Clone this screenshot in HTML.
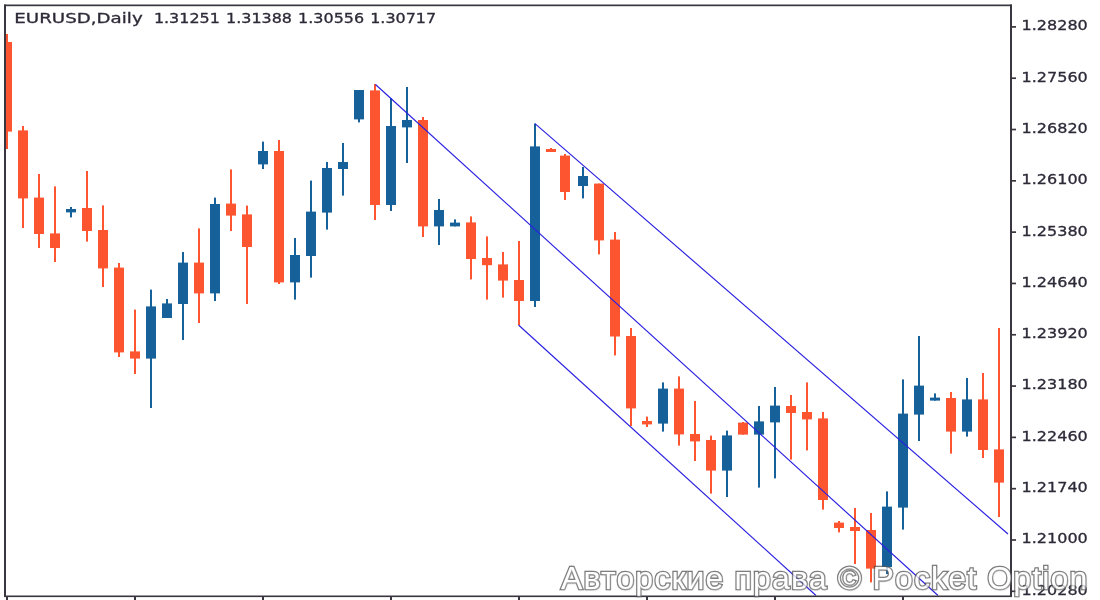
<!DOCTYPE html>
<html><head><meta charset="utf-8"><title>EURUSD Daily</title>
<style>
html,body{margin:0;padding:0;background:#fff;}
body{width:1100px;height:600px;overflow:hidden;position:relative;}
svg{position:absolute;left:0;top:0;display:block;filter:blur(0.4px)}
svg text{font-family:"DejaVu Sans","Liberation Sans",sans-serif;font-size:13.5px;fill:#2e2a38;stroke:#2e2a38;stroke-width:0.3px;}
#wm{position:absolute;left:561px;top:555.6px;white-space:nowrap;font-family:"Liberation Sans",sans-serif;font-size:32px;letter-spacing:1.15px;line-height:44px;color:#fff;opacity:.76;
-webkit-text-stroke:2.6px #4a4a4a;paint-order:stroke fill;
text-shadow:0 0 2px #777,0.5px 0.5px 2px #999;}
</style></head><body>
<svg width="1100" height="600" viewBox="0 0 1100 600">
<rect width="1100" height="600" fill="#fff"/>
<defs><clipPath id="cp"><rect x="6" y="6" width="1004" height="590"/></clipPath></defs>
<g clip-path="url(#cp)">
<rect x="6" y="34" width="2" height="115" fill="#FD5530"/>
<rect x="2" y="42" width="10" height="89.6" fill="#FD5530"/>
<rect x="22" y="126" width="2" height="102" fill="#FD5530"/>
<rect x="18" y="130.4" width="10" height="68.0" fill="#FD5530"/>
<rect x="38" y="174" width="2" height="74" fill="#FD5530"/>
<rect x="34" y="197.6" width="10" height="36.4" fill="#FD5530"/>
<rect x="54" y="186.4" width="2" height="75.6" fill="#FD5530"/>
<rect x="50" y="233.4" width="10" height="14.6" fill="#FD5530"/>
<rect x="70" y="207" width="2" height="10.4" fill="#17619A"/>
<rect x="66" y="209" width="10" height="3.4" fill="#17619A"/>
<rect x="86" y="171" width="2" height="70.6" fill="#FD5530"/>
<rect x="82" y="208" width="10" height="23" fill="#FD5530"/>
<rect x="102" y="205.4" width="2" height="81.6" fill="#FD5530"/>
<rect x="98" y="230" width="10" height="38.4" fill="#FD5530"/>
<rect x="118" y="263" width="2" height="94" fill="#FD5530"/>
<rect x="114" y="267.6" width="10" height="84.8" fill="#FD5530"/>
<rect x="134" y="309.6" width="2" height="64.4" fill="#FD5530"/>
<rect x="130" y="351.4" width="10" height="7.2" fill="#FD5530"/>
<rect x="150" y="289.6" width="2" height="118.4" fill="#17619A"/>
<rect x="146" y="306.4" width="10" height="52.2" fill="#17619A"/>
<rect x="166" y="299" width="2" height="19" fill="#17619A"/>
<rect x="162" y="303.4" width="10" height="14.6" fill="#17619A"/>
<rect x="182" y="252" width="2" height="88" fill="#17619A"/>
<rect x="178" y="262.6" width="10" height="41.4" fill="#17619A"/>
<rect x="198" y="228.4" width="2" height="94.6" fill="#FD5530"/>
<rect x="194" y="262.6" width="10" height="30.8" fill="#FD5530"/>
<rect x="214" y="197.6" width="2" height="103.4" fill="#17619A"/>
<rect x="210" y="204" width="10" height="89.4" fill="#17619A"/>
<rect x="230" y="169.4" width="2" height="61.6" fill="#FD5530"/>
<rect x="226" y="203.6" width="10" height="12.0" fill="#FD5530"/>
<rect x="246" y="205.6" width="2" height="98.4" fill="#FD5530"/>
<rect x="242" y="214.4" width="10" height="32.6" fill="#FD5530"/>
<rect x="262" y="141.6" width="2" height="27.4" fill="#17619A"/>
<rect x="258" y="151" width="10" height="13.4" fill="#17619A"/>
<rect x="278" y="140" width="2" height="144" fill="#FD5530"/>
<rect x="274" y="151" width="10" height="131.4" fill="#FD5530"/>
<rect x="294" y="238" width="2" height="61.6" fill="#17619A"/>
<rect x="290" y="255" width="10" height="27.4" fill="#17619A"/>
<rect x="310" y="180.6" width="2" height="97.0" fill="#17619A"/>
<rect x="306" y="211.6" width="10" height="44.4" fill="#17619A"/>
<rect x="326" y="162" width="2" height="67.6" fill="#17619A"/>
<rect x="322" y="168" width="10" height="44.6" fill="#17619A"/>
<rect x="342" y="143" width="2" height="52.6" fill="#17619A"/>
<rect x="338" y="162" width="10" height="7" fill="#17619A"/>
<rect x="358" y="90" width="2" height="32.4" fill="#17619A"/>
<rect x="354" y="90" width="10" height="29.4" fill="#17619A"/>
<rect x="374" y="84" width="2" height="136" fill="#FD5530"/>
<rect x="370" y="90.4" width="10" height="114.6" fill="#FD5530"/>
<rect x="390" y="98" width="2" height="113" fill="#17619A"/>
<rect x="386" y="126" width="10" height="79" fill="#17619A"/>
<rect x="406" y="87" width="2" height="76" fill="#17619A"/>
<rect x="402" y="120" width="10" height="7.4" fill="#17619A"/>
<rect x="422" y="117" width="2" height="120" fill="#FD5530"/>
<rect x="418" y="120" width="10" height="106.4" fill="#FD5530"/>
<rect x="438" y="199" width="2" height="46" fill="#17619A"/>
<rect x="434" y="210" width="10" height="16.4" fill="#17619A"/>
<rect x="454" y="219.4" width="2" height="7.0" fill="#17619A"/>
<rect x="450" y="222.6" width="10" height="3.8" fill="#17619A"/>
<rect x="470" y="216.4" width="2" height="63.0" fill="#FD5530"/>
<rect x="466" y="222.4" width="10" height="36.6" fill="#FD5530"/>
<rect x="486" y="236.4" width="2" height="63.2" fill="#FD5530"/>
<rect x="482" y="258" width="10" height="7.2" fill="#FD5530"/>
<rect x="502" y="252" width="2" height="45.6" fill="#FD5530"/>
<rect x="498" y="264.4" width="10" height="16.2" fill="#FD5530"/>
<rect x="518" y="241" width="2" height="84" fill="#FD5530"/>
<rect x="514" y="280" width="10" height="21" fill="#FD5530"/>
<rect x="534" y="123.6" width="2" height="183.4" fill="#17619A"/>
<rect x="530" y="146.4" width="10" height="154.6" fill="#17619A"/>
<rect x="550" y="148" width="2" height="4" fill="#FD5530"/>
<rect x="546" y="149" width="10" height="3" fill="#FD5530"/>
<rect x="564" y="154" width="2" height="46" fill="#FD5530"/>
<rect x="560" y="155.6" width="10" height="36.4" fill="#FD5530"/>
<rect x="582" y="167" width="2" height="31.4" fill="#17619A"/>
<rect x="578" y="176" width="10" height="10" fill="#17619A"/>
<rect x="598" y="183.6" width="2" height="70.8" fill="#FD5530"/>
<rect x="594" y="183.6" width="10" height="56.8" fill="#FD5530"/>
<rect x="614" y="232" width="2" height="123.4" fill="#FD5530"/>
<rect x="610" y="239.6" width="10" height="96.9" fill="#FD5530"/>
<rect x="630" y="328" width="2" height="98" fill="#FD5530"/>
<rect x="626" y="336" width="10" height="72.4" fill="#FD5530"/>
<rect x="646" y="416.6" width="2" height="10.4" fill="#FD5530"/>
<rect x="642" y="421" width="10" height="3.4" fill="#FD5530"/>
<rect x="662" y="382.4" width="2" height="49.2" fill="#17619A"/>
<rect x="658" y="388.6" width="10" height="35.0" fill="#17619A"/>
<rect x="678" y="376.4" width="2" height="69.2" fill="#FD5530"/>
<rect x="674" y="388.6" width="10" height="45.8" fill="#FD5530"/>
<rect x="694" y="401" width="2" height="60" fill="#FD5530"/>
<rect x="690" y="434" width="10" height="7.4" fill="#FD5530"/>
<rect x="710" y="435.6" width="2" height="58.0" fill="#FD5530"/>
<rect x="706" y="440" width="10" height="30.6" fill="#FD5530"/>
<rect x="726" y="430.6" width="2" height="66.4" fill="#17619A"/>
<rect x="722" y="435.4" width="10" height="35.2" fill="#17619A"/>
<rect x="742" y="422" width="2" height="12.6" fill="#FD5530"/>
<rect x="738" y="422.6" width="10" height="12.0" fill="#FD5530"/>
<rect x="758" y="406" width="2" height="81.6" fill="#17619A"/>
<rect x="754" y="421.4" width="10" height="13.2" fill="#17619A"/>
<rect x="774" y="387" width="2" height="91.4" fill="#17619A"/>
<rect x="770" y="405.6" width="10" height="16.8" fill="#17619A"/>
<rect x="790" y="395" width="2" height="64.6" fill="#FD5530"/>
<rect x="786" y="406" width="10" height="7" fill="#FD5530"/>
<rect x="806" y="382.4" width="2" height="68.0" fill="#FD5530"/>
<rect x="802" y="412" width="10" height="7.4" fill="#FD5530"/>
<rect x="822" y="412" width="2" height="97.6" fill="#FD5530"/>
<rect x="818" y="418.4" width="10" height="81.6" fill="#FD5530"/>
<rect x="838" y="521" width="2" height="11.4" fill="#FD5530"/>
<rect x="834" y="522.6" width="10" height="5.4" fill="#FD5530"/>
<rect x="854" y="508" width="2" height="56" fill="#FD5530"/>
<rect x="850" y="527" width="10" height="4" fill="#FD5530"/>
<rect x="870" y="513" width="2" height="69.4" fill="#FD5530"/>
<rect x="866" y="530" width="10" height="38.6" fill="#FD5530"/>
<rect x="886" y="491.4" width="2" height="82.6" fill="#17619A"/>
<rect x="882" y="506.6" width="10" height="60.4" fill="#17619A"/>
<rect x="902" y="379.4" width="2" height="150.2" fill="#17619A"/>
<rect x="898" y="413.6" width="10" height="94.0" fill="#17619A"/>
<rect x="918" y="336" width="2" height="105" fill="#17619A"/>
<rect x="914" y="385.6" width="10" height="29.0" fill="#17619A"/>
<rect x="934" y="393.4" width="2" height="7.2" fill="#17619A"/>
<rect x="930" y="397.6" width="10" height="3.0" fill="#17619A"/>
<rect x="950" y="392" width="2" height="61.6" fill="#FD5530"/>
<rect x="946" y="398" width="10" height="33.6" fill="#FD5530"/>
<rect x="966" y="378" width="2" height="58.6" fill="#17619A"/>
<rect x="962" y="399.4" width="10" height="32.2" fill="#17619A"/>
<rect x="982" y="373" width="2" height="85" fill="#FD5530"/>
<rect x="978" y="399.4" width="10" height="50.6" fill="#FD5530"/>
<rect x="998" y="328" width="2" height="189" fill="#FD5530"/>
<rect x="994" y="449.4" width="10" height="33.2" fill="#FD5530"/>
</g>
<g clip-path="url(#cp)" stroke="#2a20e0" stroke-width="1.15" fill="none">
<line x1="375.5" y1="84.5" x2="938" y2="595.5"/>
<line x1="535" y1="123.6" x2="1008" y2="534"/>
<line x1="518.5" y1="325" x2="816" y2="595.5"/>
</g>
<g fill="#3a3640">
<rect x="4" y="4.5" width="2" height="592.5"/>
<rect x="4" y="4.5" width="1008" height="1.7"/>
<rect x="1010" y="4.5" width="2" height="592.5"/>
<rect x="4" y="595.5" width="1008" height="1.6"/>
</g>
<rect x="6" y="596" width="2" height="4" fill="#3a3640"/>
<rect x="134" y="596" width="2" height="4" fill="#3a3640"/>
<rect x="262" y="596" width="2" height="4" fill="#3a3640"/>
<rect x="390" y="596" width="2" height="4" fill="#3a3640"/>
<rect x="518" y="596" width="2" height="4" fill="#3a3640"/>
<rect x="646" y="596" width="2" height="4" fill="#3a3640"/>
<rect x="774" y="596" width="2" height="4" fill="#3a3640"/>
<rect x="902" y="596" width="2" height="4" fill="#3a3640"/>
<rect x="1011" y="26.05" width="5" height="1.7" fill="#3a3640"/>
<text x="1021.6" y="30.30" textLength="66.2" lengthAdjust="spacingAndGlyphs">1.28280</text>
<rect x="1011" y="77.36" width="5" height="1.7" fill="#3a3640"/>
<text x="1021.6" y="81.61" textLength="66.2" lengthAdjust="spacingAndGlyphs">1.27560</text>
<rect x="1011" y="128.67" width="5" height="1.7" fill="#3a3640"/>
<text x="1021.6" y="132.92" textLength="66.2" lengthAdjust="spacingAndGlyphs">1.26820</text>
<rect x="1011" y="179.98" width="5" height="1.7" fill="#3a3640"/>
<text x="1021.6" y="184.23" textLength="66.2" lengthAdjust="spacingAndGlyphs">1.26100</text>
<rect x="1011" y="231.29" width="5" height="1.7" fill="#3a3640"/>
<text x="1021.6" y="235.54" textLength="66.2" lengthAdjust="spacingAndGlyphs">1.25380</text>
<rect x="1011" y="282.60" width="5" height="1.7" fill="#3a3640"/>
<text x="1021.6" y="286.85" textLength="66.2" lengthAdjust="spacingAndGlyphs">1.24640</text>
<rect x="1011" y="333.91" width="5" height="1.7" fill="#3a3640"/>
<text x="1021.6" y="338.16" textLength="66.2" lengthAdjust="spacingAndGlyphs">1.23920</text>
<rect x="1011" y="385.22" width="5" height="1.7" fill="#3a3640"/>
<text x="1021.6" y="389.47" textLength="66.2" lengthAdjust="spacingAndGlyphs">1.23180</text>
<rect x="1011" y="436.53" width="5" height="1.7" fill="#3a3640"/>
<text x="1021.6" y="440.78" textLength="66.2" lengthAdjust="spacingAndGlyphs">1.22460</text>
<rect x="1011" y="487.84" width="5" height="1.7" fill="#3a3640"/>
<text x="1021.6" y="492.09" textLength="66.2" lengthAdjust="spacingAndGlyphs">1.21740</text>
<rect x="1011" y="539.15" width="5" height="1.7" fill="#3a3640"/>
<text x="1021.6" y="543.40" textLength="66.2" lengthAdjust="spacingAndGlyphs">1.21000</text>
<rect x="1011" y="590.46" width="5" height="1.7" fill="#3a3640"/>
<text x="1021.6" y="594.71" textLength="66.2" lengthAdjust="spacingAndGlyphs">1.20280</text>
<text x="14.3" y="22.5" textLength="128.4" lengthAdjust="spacingAndGlyphs">EURUSD,Daily</text>
<text x="153.9" y="22.5" textLength="66" lengthAdjust="spacingAndGlyphs">1.31251</text>
<text x="226.0" y="22.5" textLength="66" lengthAdjust="spacingAndGlyphs">1.31388</text>
<text x="298.1" y="22.5" textLength="66" lengthAdjust="spacingAndGlyphs">1.30556</text>
<text x="370.2" y="22.5" textLength="66" lengthAdjust="spacingAndGlyphs">1.30717</text>
</svg>
<div id="wm">Авторские права © Pocket Option</div>
</body></html>
